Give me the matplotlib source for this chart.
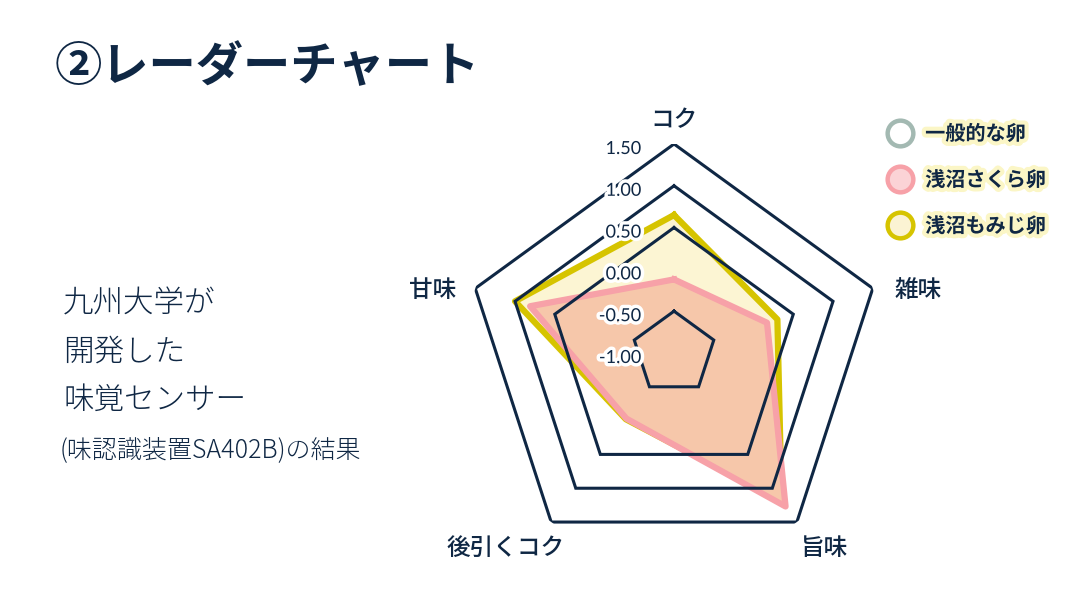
import numpy as np
import matplotlib
matplotlib.use("Agg")
import matplotlib.pyplot as plt
from matplotlib.lines import Line2D
import matplotlib.patheffects as pe

plt.rcParams['font.family'] = ['Noto Sans CJK JP', 'DejaVu Sans']

# ---- data ----
axes_labels = ["コク", "雑味", "旨味", "後引くコク", "甘味"]
series_names = ["一般的な卵", "浅沼さくら卵", "浅沼もみじ卵"]
sakura = [-0.12, 0.17, 1.27, -0.03, 0.81]
momiji = [0.65, 0.30, 1.19, -0.02, 1.00]
ring_levels = [1.5, 1.0, 0.5, -0.5]
tick_values = [1.5, 1.0, 0.5, 0.0, -0.5, -1.0]
tick_labels = ["1.50", "1.00", "0.50", "0.00", "-0.50", "-1.00"]
r_min, r_max = -1.0, 1.5

navy = "#0f2744"
yel_line, yel_fill = "#d6c400", "#fcf5d3"
pink_line, pink_fill = "#f7a1a8", "#f6c7aa"

fig = plt.figure(figsize=(10.8, 6.08), dpi=100)
fig.patch.set_facecolor("white")

ax = fig.add_axes([0.4306, 0.0757, 0.387, 0.6875], projection="polar")
ax.set_theta_offset(np.pi / 2)
ax.set_theta_direction(-1)
ax.set_ylim(r_min, r_max)
ax.grid(False)
ax.set_xticks([])
ax.set_yticks([])
ax.spines["polar"].set_visible(False)
ax.patch.set_alpha(0)

n = len(axes_labels)
theta = np.linspace(0, 2 * np.pi, n, endpoint=False)
theta_c = np.append(theta, theta[0])

def closed(v):
    return np.append(v, v[0])

# series
ax.fill(theta_c, closed(momiji), color=yel_fill, zorder=1)
ax.plot(theta_c, closed(momiji), color=yel_line, lw=4.5, solid_joinstyle="round", zorder=2)
ax.fill(theta_c, closed(sakura), color=pink_fill, zorder=3)
ax.plot(theta_c, closed(sakura), color=pink_line, lw=4.5, solid_joinstyle="round", zorder=4)

# pentagon rings on top
for lv in ring_levels:
    ax.plot(theta_c, [lv] * (n + 1), color=navy, lw=2.2, solid_joinstyle="miter", zorder=5)

# tick labels
halo = [pe.withStroke(linewidth=5, foreground="white")]
for v, t in zip(tick_values, tick_labels):
    ax.annotate(t, xy=(0, v), xytext=(-33, -5), textcoords="offset pixels",
                ha="right", va="center", fontsize=13, color=navy,
                family=["Lato", "DejaVu Sans"], path_effects=halo, zorder=6)

# axis labels
offsets = [(0, 23), (45, -2), (28, -26), (-46, -26), (-43, -2)]
for th, lab, off in zip(theta, axes_labels, offsets):
    ax.annotate(lab, xy=(th, r_max), xytext=off, textcoords="offset pixels",
                ha="center", va="center", fontsize=17, color=navy,
                fontweight="medium", annotation_clip=False)

# legend
handles = [
    Line2D([], [], ls="none", marker="o", ms=18.5, mew=3.2, mec="#a3b9b2", mfc="white"),
    Line2D([], [], ls="none", marker="o", ms=18.5, mew=3.2, mec=pink_line, mfc="#fbd3d6"),
    Line2D([], [], ls="none", marker="o", ms=18.5, mew=3.2, mec=yel_line, mfc="#fbf3d3"),
]
leg = fig.legend(handles, series_names, loc="upper left", bbox_to_anchor=(0.824, 0.7977),
                 frameon=False, fontsize=14.5, labelspacing=1.25, handlelength=1.0,
                 handletextpad=0.75, borderpad=0, borderaxespad=0)
for t in leg.get_texts():
    t.set_color(navy)
    t.set_fontweight("bold")
    t.set_path_effects([pe.withStroke(linewidth=6, foreground="#fbf6c6")])

# title and side text
fig.text(55 / 1080, 1 - 67 / 608, "②レーダーチャート", fontsize=34, fontweight="bold",
         color=navy, ha="left", va="center")
for txt, y in zip(["九州大学が", "開発した", "味覚センサー"], [304, 352, 400]):
    fig.text(63 / 1080, 1 - y / 608, txt, fontsize=22, fontweight="light",
             color=navy, ha="left", va="center")
fig.text(60 / 1080, 1 - 450 / 608, "(味認識装置SA402B)の結果", fontsize=18, fontweight="light",
         color=navy, ha="left", va="center")

fig.savefig("out.png", dpi=100, facecolor="white")
